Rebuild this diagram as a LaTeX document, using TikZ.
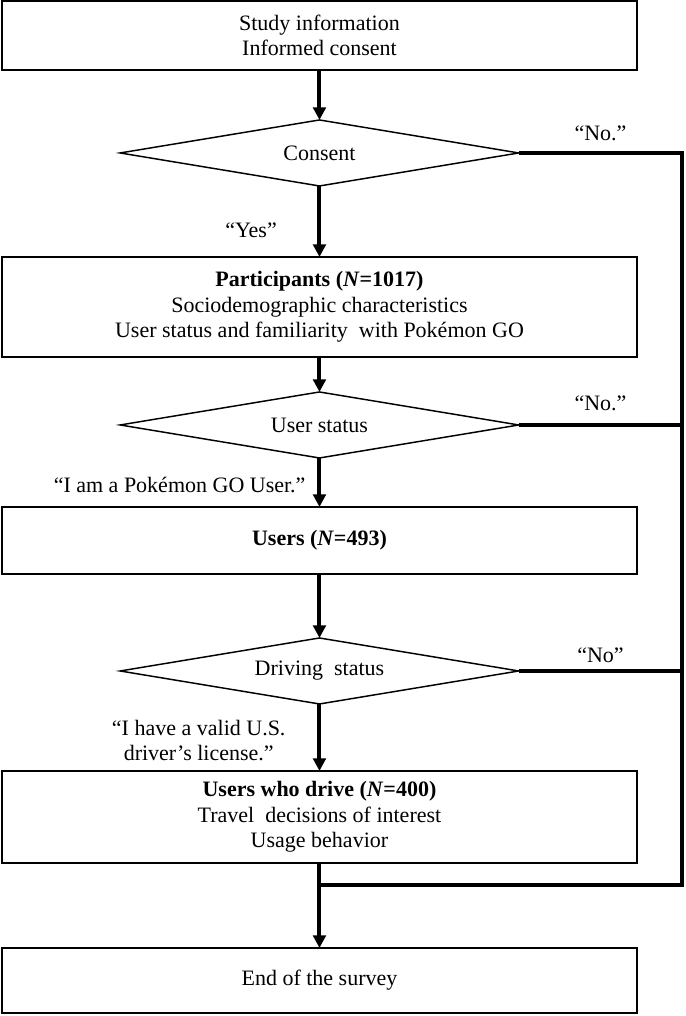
\documentclass[tikz,border=0pt]{standalone}
\usepackage{fontspec}
\setmainfont{Liberation Serif}
\usetikzlibrary{arrows.meta,positioning,calc,shapes.geometric}
\newcommand{\flowfont}{\fontsize{16.5}{19}\selectfont}
\tikzset{
  block/.style={draw, rectangle, minimum width=476pt, align=center, font=\flowfont,
                line width=1.1pt, inner sep=2pt, outer sep=0pt},
  decision/.style={draw, diamond, aspect=6, minimum width=299pt, minimum height=49.5pt,
                   inner sep=0pt, outer sep=0pt, font=\flowfont, line width=1.1pt},
  arrow/.style={-{Triangle[length=9.5pt,width=9.5pt]}, line width=3pt},
  rail/.style={line width=3pt, line join=miter},
  answer/.style={font=\flowfont, align=center, inner sep=0pt, outer sep=0pt},
}

\begin{document}
\begin{tikzpicture}
\useasboundingbox (0,0) rectangle (513.75pt,-762pt);

% ============================ main column =============================
\node[block, minimum height=51.75pt] (info) at (239.6pt,-26.6pt)
  {Study information\\Informed consent};
\node[decision, below=37.5pt of info] (consent) {Consent};
\node[block, below=53.25pt of consent, minimum height=75pt] (part)
  {\textbf{Participants (\textit{N}=1017)}\\Sociodemographic characteristics\\
   User status and familiarity\ \ with Pokémon GO};
\node[decision, below=26.25pt of part] (status) {User status};
\node[block, below=36.75pt of status, minimum height=50.25pt] (users)
  {\textbf{Users (\textit{N}=493)}};
\node[decision, below=48pt of users] (driving) {Driving\ \ status};
\node[block, below=50.25pt of driving, minimum height=69pt] (drive)
  {\textbf{Users who drive (\textit{N}=400)}\\Travel\ \ decisions of interest\\Usage behavior};
\node[block, below=63.75pt of drive, minimum height=48.75pt] (endbox) {End of the survey};

% forward flow
\draw[arrow] (info) -- (consent);
\draw[arrow] (consent) -- node[answer, pos=0.62, left=32pt] {“Yes”} (part);
\draw[arrow] (part) -- (status);
\draw[arrow] (status) -- node[answer, pos=0.55, left=10.5pt] {“I am a Pokémon GO User.”} (users);
\draw[arrow] (users) -- (driving);
\draw[arrow] (driving) -- node[answer, pos=0.55, left=25.5pt]
  {“I have a valid U.S.\\driver’s license.”} (drive);
\draw[arrow] (drive) -- (endbox);

% ============================ exit rail ===============================
\coordinate[right=122.5pt of consent.east] (rtop);
\coordinate[below=16.5pt of drive] (join);
\draw[rail] (consent.east) -- node[answer, above=9pt] {“No.”} (rtop) |- (join);
\draw[rail] (status.east) -- node[answer, above=10.5pt] {“No.”} (status.east -| rtop);
\draw[rail] (driving.east) -- node[answer, above=6pt] {“No”} (driving.east -| rtop);

\end{tikzpicture}
\end{document}
